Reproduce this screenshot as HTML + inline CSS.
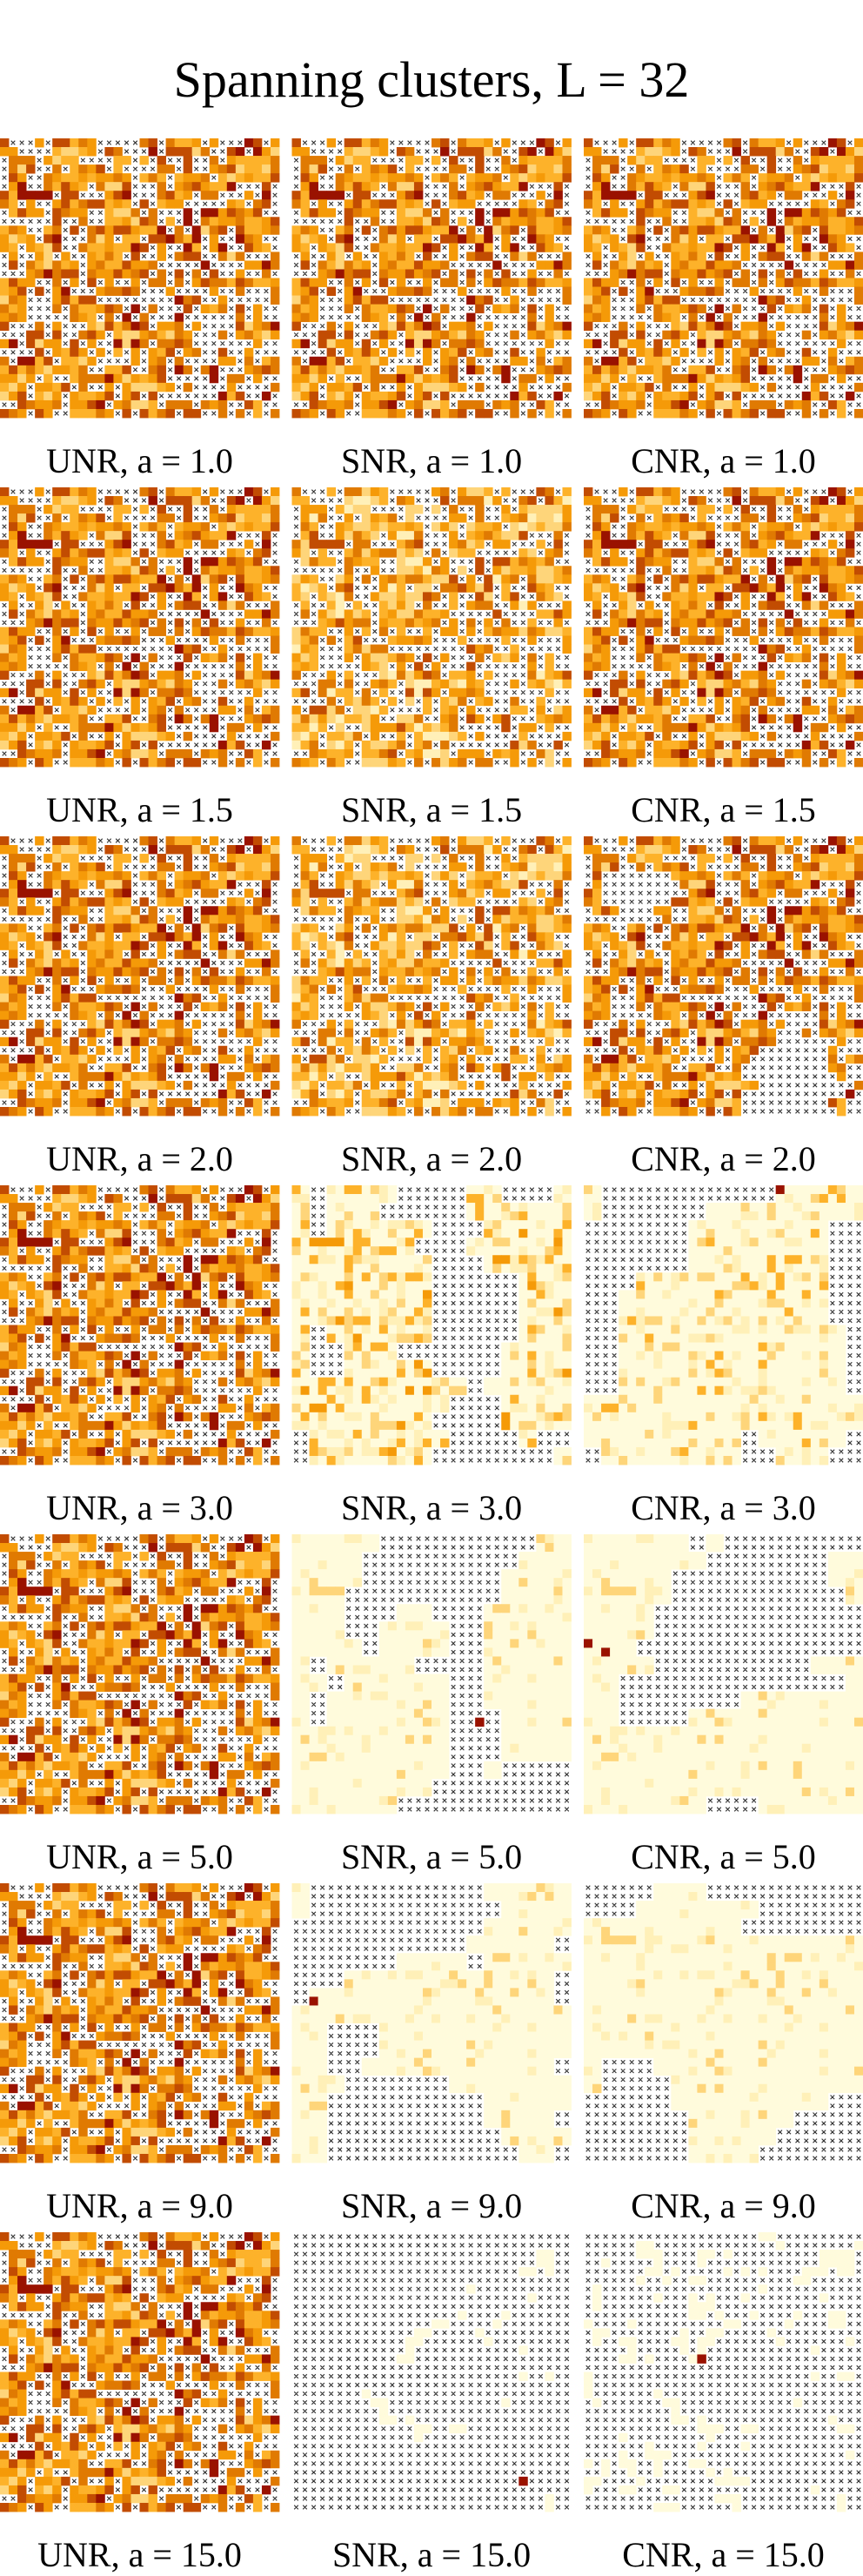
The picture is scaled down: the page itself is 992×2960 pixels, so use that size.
<!DOCTYPE html>
<html><head><meta charset="utf-8">
<style>
html,body{margin:0;padding:0;background:#fff;}
body{width:992px;height:2960px;position:relative;overflow:hidden;}
svg{position:absolute;left:0;top:0;}
text{font-family:"Liberation Serif",serif;fill:#000;}
</style></head>
<body>
<svg id="fig" width="992" height="2960" viewBox="0 0 992 2960">
<text x="496" y="111" font-size="58" text-anchor="middle">Spanning clusters, L = 32</text>
</svg>
<script>
// ---- data ----
const aValues = ["1.0","1.5","2.0","3.0","5.0","9.0","15.0"];
const models = ["UNR","SNR","CNR"];
// base lattice (UNR realization), '.' = empty site, 1..6 = value level
const baseGrid = [
"5...3.55243.....45.4223.3...65.3",
"33....21123.54...6.55514..56.631",
".444.3122....22.2.5..5..4.322224",
".415..4.2435.2....44.5..34512214",
".53..4322323343.242.2334.2123225",
".36..42532.4115...4.3453226...5.",
"526666.55...356...4523.44...3.6.",
"42.3..352455232.5.233.....32.45.",
".2533.5433..2114.4...6.6635435..",
"......5..4..223154.2.6.423342235",
"243..24.5.453553226.4.6145.52234",
"3123.56...413.22.556426.3..643..",
"32.3215..42232265.3..62.36..532.",
".3..31.3..3242.5..3.455..414...4",
".5.421423.34225334.....6....3364",
"...346455.4335345.4.5.4.5..3..4.",
"2533..4.3.5.3..3.44.4.3544254223",
"235.5.36...34454...3....3..4...4",
"143...35255.........645..3.....4",
"423...4.422354.6.4...5.324.5.3..",
"343.....432.4.6.4...6......4.3..",
"5...4.3...2152465.334.3....51346",
"...55.5..453.211342143...4.34213",
"36.5133.5.3..6164.4454.......3..",
"....5.3253.3.2.3.325.34..5..3...",
"4.6625.2213....3.34.4....33.4.24",
"2524213324..225..45.64.46...3454",
"3313.2..24446313235.....6.44.3..",
"213.3325.4..3.311123.4....3....4",
"135.213.32235.35.5.......625..6.",
"..54334.3356.34112.444.434..52..",
"543.53..22243.5.5245.55..4.4.2.4"
];
const FULL = Array(16).fill("aaaaaaaaaaaaaaaa");
const maskCNR20 = ["aaaaaaaaaaaaaaaa","aaaaaaaaaaaaaaaa","a....aaaaaaaaaaa","a....aaaaaaaaaaa","aa..aaaaaaaaaaaa","aaaaaaaaaaaaaaaa","aaaaaaaaaaaaaaaa","aaaaaaaaaaaaaaaa","aaaaaaaaaaaaaaaa","aaaaaaaaaaaaaaaa","aaaaaaaaaaaaaaaa","aaaaaaaaaaaaaaaa","aaaaaaaaaa....aa","aaaaaaaaa.....a.","aaaaaaaaaa.....a",".aaaaaaaa.....a."];
const maskSNR30 = ["a.aaaa....aa...a","a.aaa.....aaaaaa","a.aaaaaa...aaaaa","aaaaaaa...aaaaaa","aaaaaaaa...aaaaa","aaaaaaaa.....aaa","aaaaaaaa.....aaa","aaaaaaaa.....aaa","a.aaaaaa.....aaa","a..aaa......aaaa","a..aaaaa....aaaa","aaaaaaaaaa.aaaaa","aaaaaaaaa...aaaa","aaaaaaaa....aaaa",".aaaaaaaa....a..",".aaaaaaa.......a"];
const maskCNR30 = ["a..........aaaaa","a......aaaaaaaaa","......aaaaaaaa..","......aaaaaaaa..","......aaaaaaaa..","...aaaaaaaaaaa..","..aaaaaaaaaaaa..","..aaaaaaaaaaaa..","..aaaaaaaaaaaaa.","..aaaaaaaaaaaaa.","..aaaaaaaaaaaaa.","..aaaaaaaaaaaaa.","aaaaaaaaaaaaaaaa","aaaaaaaaaaaaaaaa","aaaaaaaaa.aaaaa.",".aaaaaaaa..aaa.."];
const maskSNR50 = ["aaaaa.........aa","aaaa.........aaa","aaaa........aaaa","aaa.........aaaa","aaa...aa...aaaaa","aaa..aaaa..aaaaa","aaaa.aaaa..aaaaa","a.aaaaa....aaaaa","aa.aaaaaa..aaaaa","a.aaaaaaa..aaaaa","a.aaaaaaa...aaaa","aaaaaaaaa...aaaa","aaaaaaaaa...aaaa","aaaaaaaaa..a....","aaaaaaaa........","aaaaaa.........."];
const maskCNR50 = ["aaaaaa.a........","aaaaaaa.......aa","aaaaa.........aa","aaaaa..........a","aaaa............","aaaa............","aaa.............","aaaa.........aaa","aa.............a","aa.......aaaaaaa","aa....aaaaaaaaaa","aaaaaaaaaaaaaaaa","aaaaaaaaaaaaaaaa","aaaaaaaaaaaaaaaa","aaaaaaaaaaaaaaaa","aaaaaaa...aaaaaa"];
const maskSNR90 = ["a..........aaaaa","a...........aaaa","...........aaaaa","..........aaaaa.","......aaaa.aaaaa","...aaaaaaaaaaaa.",".aaaaaaaaaaaaaa.","aaaaaaaaaaaaaaaa","aa...aaaaaaaaaaa","aa...aaaaaaaaaaa","aa..aaaaaaaaaaa.","aaa......aaaaaaa","aa.........aaaaa","aa.........aaaa.","aa..........aaaa","aa...........aa."];
const maskCNR90 = ["....aaa.........","...aaaaaaa......","aaaaaaaaa.......","aaaaaaaaaaaaaaaa","aaaaaaaaaaaaaaaa","aaaaaaaaaaaaaaaa","aaaaaaaaaaaaaaaa","aaaaaaaaaaaaaaaa","aaaaaaaaaaaaaaaa","aaaaaaaaaaaaaaaa","a...aaaaaaaaaaaa","a....aaaaaaaaaaa",".....aaaaaaaaa..","......aaaaaa....","......aaaaa.....","......aaaa......"];
const maskSNR150 = ["..............s.","..............s.",".............ss.","..........s.ss..","........ssssss..",".......sssssss..","......sssssssss.",".....ssssssssss.","...ssssssssssss.","....sssssssssss.",".....ssssssss...",".....s.sss.s....","..............s.","..............s.","..............s.","..............s."];
const maskCNR150 = ["ssss.sssssssssss","ssssssssssssssss","ssssssssssssssss","ssssssssssssssss","ssssssssssssssss","ssssssssssssssss","ssssssssssssssss","ssssssssssssssss","ssssssssssssssss","ssssssssssssssss","ssssssssssssssss","ssssssssssssssss","ssssssssssssssss","ssssssssssssssss","ssssssssssssssss","ssssssssssssssss"];
const panelMasks = [
 [FULL,FULL,FULL],[FULL,FULL,FULL],[FULL,FULL,maskCNR20],
 [FULL,maskSNR30,maskCNR30],[FULL,maskSNR50,maskCNR50],
 [FULL,maskSNR90,maskCNR90],[FULL,maskSNR150,maskCNR150]];
const panelHoles = [[1,1,1],[1,1,1],[1,1,1],[1,0,0],[1,0,0],[1,0,0],[1,0,0]];
const panelOffset = [[0,0,0],[0,1,0],[0,1,0],[0,3,4],[0,5,5],[0,5,5],[0,6,6]];
const darkSites = [[4,2,12,0],[4,2,13,2],[4,1,21,21],[5,1,13,2],[6,1,28,26],[6,2,14,13],[3,2,0,22]];
const palette = ["#fffbdc","#fff0b8","#fed57a","#fdb22a","#f59a08","#e07a02","#c24c02","#9a1200"];

// ---- layout ----
const NS="http://www.w3.org/2000/svg";
const svg=document.getElementById("fig");
const panelSize=321, N=32, cell=panelSize/N;
const colX=[0,335.5,671], rowY0=159, rowPitch=401;
function px(col,c){return colX[col]+c*cell;}
function py(row,r){return rowY0+row*rowPitch+r*cell;}

for(let row=0;row<aValues.length;row++){
 for(let m=0;m<models.length;m++){
  const g=document.createElementNS(NS,"g");
  
  
  svg.appendChild(g);
  const mask=panelMasks[row][m], holes=panelHoles[row][m], off=panelOffset[row][m];
  let xd="";
  for(let r=0;r<N;r++){
   for(let c=0;c<N;c++){
    const mc=mask[r>>1][c>>1];
    const bch=baseGrid[r][c];
    const b = bch==='.'?0:parseInt(bch);
    let filled=false, lvl=0;
    if(mc==='a'){
     if(bch!=='.'){filled=true;lvl=b+1-off;}
     else if(!holes){filled=true;lvl=1-off;}
    } else if(mc==='s'){
     if(bch!=='.' && b<=2){filled=true;lvl=b-off;}
    }
    for(const d of darkSites){ if(d[0]===row&&d[1]===m&&d[2]===r&&d[3]===c){filled=true;lvl=7;} }
    const x=px(m,c), y=py(row,r);
    if(filled){
     lvl=Math.max(0,Math.min(7,lvl));
     const rc=document.createElementNS(NS,"rect");
     rc.setAttribute("x",x.toFixed(2));rc.setAttribute("y",y.toFixed(2));
     rc.setAttribute("width",(cell+0.4).toFixed(2));rc.setAttribute("height",(cell+0.4).toFixed(2));
     rc.setAttribute("fill",palette[lvl]);
     
     
     g.appendChild(rc);
    } else {
     const cx=x+cell/2, cy=y+cell/2, h=2.3;
     xd+=`M${(cx-h).toFixed(1)} ${(cy-h).toFixed(1)}L${(cx+h).toFixed(1)} ${(cy+h).toFixed(1)}M${(cx-h).toFixed(1)} ${(cy+h).toFixed(1)}L${(cx+h).toFixed(1)} ${(cy-h).toFixed(1)}`;
    }
   }
  }
  const p=document.createElementNS(NS,"path");
  p.setAttribute("d",xd);p.setAttribute("stroke","#333");p.setAttribute("stroke-width","1.1");p.setAttribute("fill","none");
  
  
  g.appendChild(p);
  const t=document.createElementNS(NS,"text");
  t.setAttribute("x",(colX[m]+panelSize/2).toFixed(1));
  t.setAttribute("y",(rowY0+row*rowPitch+panelSize+63).toFixed(1));
  t.setAttribute("font-size","40");t.setAttribute("text-anchor","middle");
  t.textContent=models[m]+", a = "+aValues[row];
  
  
  svg.appendChild(t);
 }
}
</script>
</body></html>
